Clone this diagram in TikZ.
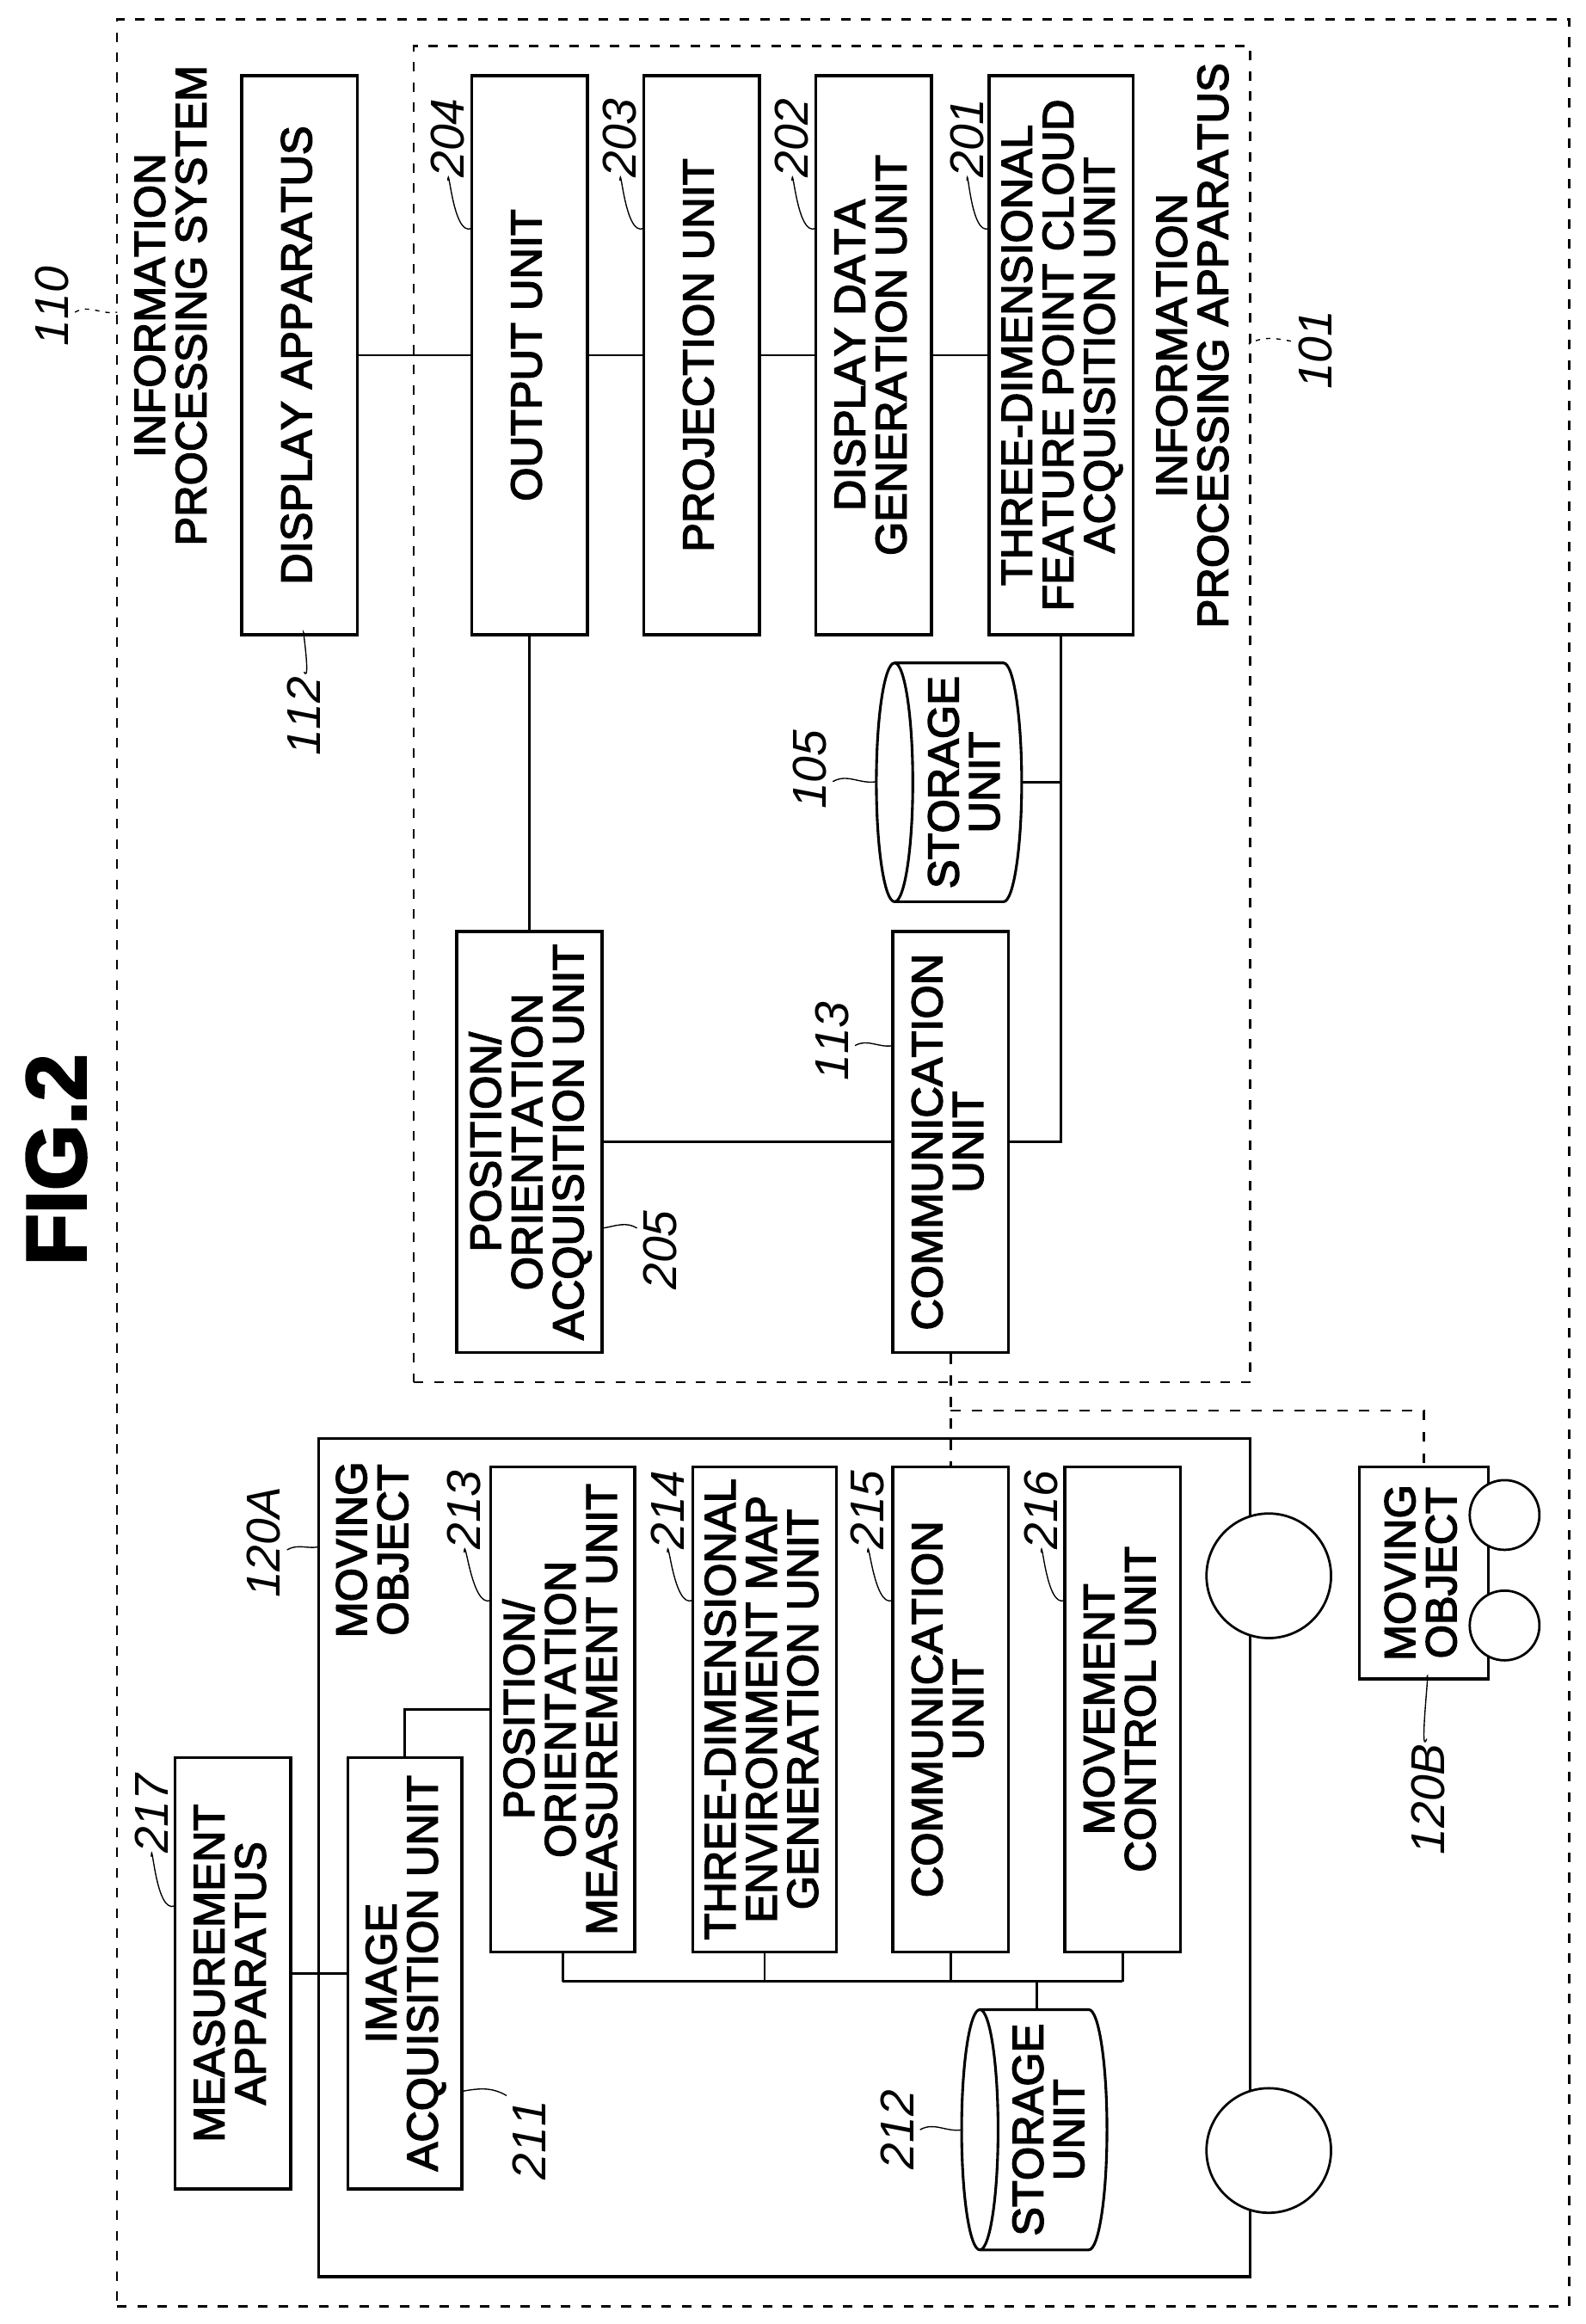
\documentclass[tikz,border=0pt]{standalone}
\usepackage{fontspec}
\usepackage{array}
\setmainfont{Liberation Sans}[FakeBold=3,Kerning=Off]
\newfontfamily\numfont{Liberation Sans Italic}[Kerning=Off]
\usetikzlibrary{shapes.geometric}
\newcommand{\vlab}[1]{\hspace{3pt}\rotatebox{90}{\fontsize{29.3}{24.6}\selectfont\begin{tabular}{@{}c@{}}#1\end{tabular}}}
\newcommand{\vnum}[1]{\rotatebox{90}{\fontsize{32}{32}\selectfont\numfont #1}}
\tikzset{
	box/.style={draw,line width=2pt,fill=white,inner sep=0pt},
	frame/.style={draw,line width=1.4pt,dash pattern=on 6.4pt off 7.2pt,inner sep=0pt},
	txt/.style={inner sep=0pt},
	leader/.style={line width=0.8pt},
	framelead/.style={line width=0.8pt,dash pattern=on 3pt off 4pt},
	link/.style={line width=1.5pt},
	commlink/.style={line width=1.4pt,dash pattern=on 6.5pt off 8pt},
	drum/.style={cylinder,shape border rotate=180,draw,line width=1.8pt,fill=white,inner sep=0pt,aspect=0.173},
	wheel/.style={circle,draw,line width=1.6pt,fill=white,inner sep=0pt}
}
\begin{document}
\begin{tikzpicture}[x=1pt,y=-1pt]
	\useasboundingbox (0,0) rectangle (1069,1567);
	\node[txt] (fig) at (38,782) {\rotatebox{90}{\fontsize{57}{57}\selectfont\bfseries FIG.2}};
	\node[frame,minimum width=979pt,minimum height=1542pt] (system) at (568.5,784) {};
	\node[frame,minimum width=564pt,minimum height=901pt] (apparatus) at (561,481.5) {};
	\node[txt] (systemtxt) at (117,206) {\vlab{INFORMATION\\PROCESSING SYSTEM}};
	\node[txt] (apparatustxt) at (806,233) {\vlab{INFORMATION\\PROCESSING APPARATUS}};
	% upper row
	\node[box,minimum width=78pt,minimum height=377pt] (display) at (202,239.5) {\vlab{DISPLAY APPARATUS}};
	\node[box,minimum width=78pt,minimum height=377pt] (output) at (357,239.5) {\vlab{OUTPUT UNIT}};
	\node[box,minimum width=78pt,minimum height=377pt] (projection) at (473,239.5) {\vlab{PROJECTION UNIT}};
	\node[box,minimum width=78pt,minimum height=377pt] (displaydata) at (589,239.5) {\vlab{DISPLAY DATA\\GENERATION UNIT}};
	\node[box,minimum width=97pt,minimum height=377pt] (cloud) at (715.5,239.5) {\vlab{THREE-DIMENSIONAL\\FEATURE POINT CLOUD\\ACQUISITION UNIT}};
	\node[drum,minimum width=161pt,minimum height=98pt] (storagea) at (646.5,527.5) {\rule{0pt}{142pt}};
	\node[txt] (storageatxt) at (652,527.5) {\vlab{STORAGE\\UNIT}};
	\node[box,minimum width=98pt,minimum height=284pt] (posacq) at (357,770) {\vlab{POSITION/\\ORIENTATION\\ACQUISITION UNIT}};
	\node[box,minimum width=78pt,minimum height=284pt] (comma) at (641,770) {\vlab{COMMUNICATION\\UNIT}};
	\draw[link] (display) -- (output);
	\draw[link] (output) -- (projection);
	\draw[link] (projection) -- (displaydata);
	\draw[link] (displaydata) -- (cloud);
	\draw[link] (output) -- (posacq);
	\draw[link] (posacq) -- (comma);
	\draw[link] (cloud.south) |- (comma.east);
	\draw[link] (storagea.east) -- (storagea.east -| cloud.south);
	% moving object A
	\node[box,minimum width=628pt,minimum height=565pt] (movinga) at (529,1252.5) {};
	\node[txt] (movingatxt) at (253,1045) {\vlab{MOVING\\OBJECT}};
	\node[box,minimum width=97pt,minimum height=327pt] (posmeas) at (379.5,1152.5) {\vlab{POSITION/\\ORIENTATION\\MEASUREMENT UNIT}};
	\node[box,minimum width=97pt,minimum height=327pt] (envmap) at (515.5,1152.5) {\vlab{THREE-DIMENSIONAL\\ENVIRONMENT MAP\\GENERATION UNIT}};
	\node[box,minimum width=78pt,minimum height=327pt] (commb) at (641,1152.5) {\vlab{COMMUNICATION\\UNIT}};
	\node[box,minimum width=78pt,minimum height=327pt] (movement) at (757,1152.5) {\vlab{MOVEMENT\\CONTROL UNIT}};
	\node[box,minimum width=77pt,minimum height=291pt] (image) at (273,1330.5) {\vlab{IMAGE\\ACQUISITION UNIT}};
	\node[box,minimum width=78pt,minimum height=291pt] (measure) at (157,1330.5) {\vlab{MEASUREMENT\\APPARATUS}};
	\node[drum,minimum width=162pt,minimum height=98pt] (storageb) at (704,1436) {\rule{0pt}{142pt}};
	\node[txt] (storagebtxt) at (709,1436) {\vlab{STORAGE\\UNIT}};
	\node[wheel,minimum size=84pt] (wheela) at (855.5,1062.5) {};
	\node[wheel,minimum size=84pt] (wheelb) at (855.5,1450) {};
	% moving object B
	\node[box,minimum width=87pt,minimum height=143pt] (movingb) at (960,1060.5) {\vlab{MOVING\\OBJECT}};
	\node[wheel,minimum size=47pt] (wheelc) at (1014.5,1021.5) {};
	\node[wheel,minimum size=47pt] (wheeld) at (1014.5,1096) {};
	\coordinate (bus) at (699,1336);
	\coordinate (split) at (641,951);
	\foreach \n in {posmeas,envmap,commb,movement}
		\draw[link] (\n.south) -- (\n.south |- bus);
	\draw[link] (posmeas.south |- bus) -- (movement.south |- bus);
	\draw[link] (bus) -- (bus |- storageb.north);
	\draw[link] (measure.east |- image) -- (image.west);
	\draw[link] (image.north) |- (posmeas.west);
	\draw[commlink] (comma.south) -- (commb.north);
	\draw[commlink] (split) -| (movingb.north);
	% reference numbers
	\node[txt] (n110) at (35,206.5) {\vnum{110}};
	\node[txt] (n101) at (887,236) {\vnum{101}};
	\node[txt] (n112) at (205,483) {\vnum{112}};
	\node[txt] (n204) at (302,93) {\vnum{204}};
	\node[txt] (n203) at (418,93) {\vnum{203}};
	\node[txt] (n202) at (534,93) {\vnum{202}};
	\node[txt] (n201) at (652,93) {\vnum{201}};
	\node[txt] (n105) at (546,519) {\vnum{105}};
	\node[txt] (n113) at (561,702) {\vnum{113}};
	\node[txt] (n205) at (445,843) {\vnum{205}};
	\node[txt] (n120a) at (178,1040) {\vnum{120A}};
	\node[txt] (n213) at (313,1018) {\vnum{213}};
	\node[txt] (n214) at (450,1018) {\vnum{214}};
	\node[txt] (n215) at (585,1018) {\vnum{215}};
	\node[txt] (n216) at (702,1018) {\vnum{216}};
	\node[txt] (n217) at (102,1223) {\vnum{217}};
	\node[txt] (n211) at (357,1443) {\vnum{211}};
	\node[txt] (n212) at (605,1436) {\vnum{212}};
	\node[txt] (n120b) at (963,1213) {\vnum{120B}};
	\coordinate (a204) at (318,154);
	\coordinate (a203) at (434,154);
	\coordinate (a202) at (550,154);
	\coordinate (a201) at (667,154);
	\coordinate (a213) at (331,1079);
	\coordinate (a214) at (467,1079);
	\coordinate (a215) at (602,1079);
	\coordinate (a216) at (718,1079);
	\coordinate (a217) at (118,1285);
	\coordinate (a211) at (312,1410);
	\coordinate (a212) at (649,1436);
	\coordinate (a105) at (591,527);
	\coordinate (a113) at (602,705);
	\coordinate (a205) at (407,828);
	\coordinate (a120a) at (215,1043);
	\coordinate (a120b) at (962,1132);
	\coordinate (a112) at (205,428);
	\coordinate (a110) at (79,210.5);
	\coordinate (a101) at (842,232);
	\foreach \n in {204,203,202,201,213,214,215,216,217}
		\draw[leader] (n\n.south) ++(0,2) to[out=88,in=205] (a\n);
	\draw[leader] (n105.east) ++(4,8) to[out=30,in=190] (a105);
	\draw[leader] (n113.east) ++(4,3) to[out=30,in=190] (a113);
	\draw[leader] (n212.east) ++(4,0) to[out=30,in=190] (a212);
	\draw[leader] (n205.west) ++(-4,-15) to[out=150,in=10] (a205);
	\draw[leader] (n211.west) ++(-4,-30) to[out=150,in=10] (a211);
	\draw[leader] (n120a.east) ++(4,5) to[out=30,in=190] (a120a);
	\draw[leader] (n112.north) ++(0,-3) to[out=-60,in=100] (a112);
	\draw[leader] (n120b.north) ++(-1,-3) to[out=-110,in=80] (a120b);
	\draw[framelead] (n110.east) ++(4,4) to[out=30,in=190] (a110);
	\draw[framelead] (n101.west) ++(-5,-6) to[out=170,in=30] (a101);
\end{tikzpicture}
\end{document}
